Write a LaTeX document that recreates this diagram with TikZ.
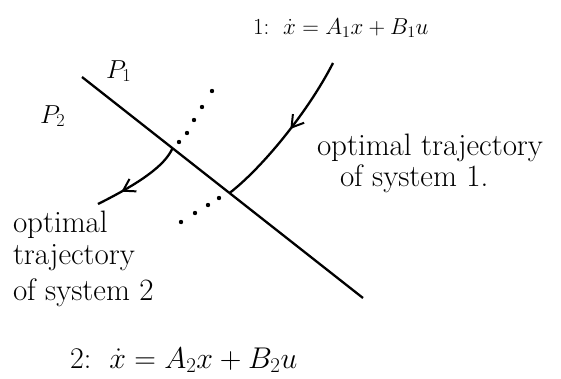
\RequirePackage{fix-cm}
\documentclass[tikz,border=0pt]{standalone}
\usepackage{tikz}
\usetikzlibrary{arrows.meta, decorations.markings, calc}
\usepackage{amsmath}

\begin{document}
\begin{tikzpicture}[x=1pt, y=-1pt,
    every node/.style={inner sep=0pt, outer sep=0pt},
    note/.style={font=\fontsize{31}{36}\selectfont, align=left},
    eqn/.style={font=\fontsize{23}{26}\selectfont},
    eqnbig/.style={font=\fontsize{30}{34}\selectfont},
    plane/.style={font=\fontsize{26}{30}\selectfont},
    surface/.style={line width=2.3pt},
    traj/.style={line width=2.3pt, postaction={decorate},
                 decoration={markings, mark=at position #1 with
                 {\arrow{Straight Barb[length=4mm, width=5mm, line width=2pt]}}}},
    dotmark/.style={fill=black}
]
    \useasboundingbox (0,0) rectangle (561,378);

    % switching surface
    \coordinate (sA) at (82,77);
    \coordinate (sB) at (363,298);
    \draw[surface] (sA) -- (sB);
    \coordinate (hit2) at ($(sA)!0.322!(sB)$);
    \coordinate (hit1) at ($(sA)!0.525!(sB)$);

    % trajectory of system 1
    \coordinate (start1) at (333,63);
    \draw[traj=0.47] (start1) .. controls (308,112) and (262,168) .. (hit1);

    % trajectory of system 2
    \coordinate (end2) at (98,204);
    \draw[traj=0.72] (hit2) .. controls (165,166) and (138,184) .. (end2);

    % continuation (dotted)
    \foreach \p in {(212,91),(202,107),(194,120),(187,133),(179,142),
                    (219,198),(208,205),(195,213),(181,222)}
        \fill[dotmark] \p circle (2.2pt);

    % labels
    \node[plane, anchor=base west] (p1) at (106,78) {$P_1$};
    \node[plane, anchor=base west] (p2) at (40,123) {$P_2$};
    \node[eqn, anchor=base west] (sys1) at (253,34)
        {1:\ \ $\dot{x} = A_1x + B_1u$};
    \node[eqnbig, anchor=base west] (sys2) at (70,368)
        {2:\ \ $\dot{x} = A_2x + B_2u$};
    \node[note, anchor=base west] (opt1) at (317,155) {optimal trajectory};
    \node[note, anchor=base west] (of1) at (340,186) {of system 1.};
    \node[note, anchor=base west] (opt2a) at (13,232) {optimal};
    \node[note, anchor=base west] (opt2b) at (13,264) {trajectory};
    \node[note, anchor=base west] (opt2c) at (13,300) {of system 2};
\end{tikzpicture}
\end{document}
